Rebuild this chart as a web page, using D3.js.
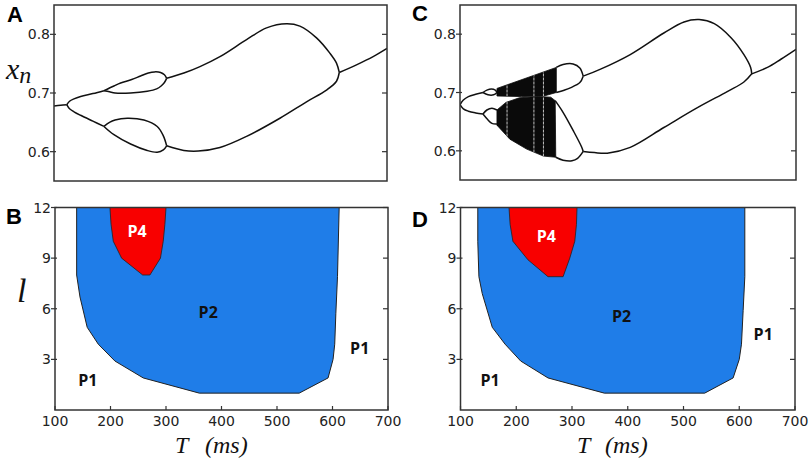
<!DOCTYPE html>
<html>
<head>
<meta charset="utf-8">
<script src="https://cdn.jsdelivr.net/npm/d3@7"></script>
<style>
  body { margin: 0; background: #fff; }
  svg { display: block; }
  .tick-label { font-family: "DejaVu Sans", sans-serif; font-size: 14px; fill: #222; }
  .panel-letter { font-family: "Liberation Sans", Arial, sans-serif; font-weight: bold; font-size: 22px; fill: #000; }
  .axis-title { font-family: "Liberation Serif", "DejaVu Serif", serif; font-style: italic; fill: #111; }
  .region-label { font-family: "Open Sans", sans-serif; font-weight: bold; font-size: 16px; text-anchor: middle; }
</style>
</head>
<body>
<div id="chart"></div>
<script>
// ---------- data ----------
var tTicks = [100, 200, 300, 400, 500, 600, 700];
var lTicks = [3, 6, 9, 12];
var xnTicks = [0.6, 0.7, 0.8];

// panel A : bifurcation branches [T, x_n]
var periodOneLeftA = [[100, 0.678], [112, 0.679], [123, 0.680]];
var periodTwoUpperA = [[123, 0.680], [128, 0.686], [136, 0.690], [148, 0.694], [170, 0.699], [190, 0.704]];
var periodTwoLowerA = [[123, 0.680], [128, 0.673], [136, 0.668], [148, 0.662], [170, 0.652], [190, 0.643]];
var loopUpperTopA = [[190, 0.704], [208, 0.712], [220, 0.717], [240, 0.723], [256, 0.729], [270, 0.734], [281, 0.736], [292, 0.735], [299, 0.731], [303, 0.725]];
var loopUpperBottomA = [[190, 0.704], [200, 0.702], [210, 0.700], [238, 0.700], [268, 0.703], [285, 0.707], [293, 0.712], [299, 0.718], [303, 0.725]];
var loopLowerTopA = [[190, 0.643], [200, 0.650], [210, 0.654], [232, 0.657], [262, 0.654], [286, 0.643], [297, 0.627], [303, 0.610]];
var loopLowerBottomA = [[190, 0.643], [208, 0.629], [238, 0.613], [268, 0.602], [286, 0.599], [297, 0.603], [303, 0.610]];
var outerUpperA = [[303, 0.725], [334, 0.734], [363, 0.745], [399, 0.762], [447, 0.791], [483, 0.811], [519, 0.818], [543, 0.814], [573, 0.794], [597, 0.768], [609, 0.751], [614, 0.735]];
var outerLowerA = [[303, 0.610], [334, 0.602], [360, 0.601], [399, 0.607], [447, 0.626], [507, 0.657], [555, 0.685], [591, 0.705], [609, 0.720], [614, 0.735]];
var periodOneRightA = [[614, 0.735], [645, 0.748], [675, 0.762], [700, 0.776]];

// panel C : bifurcation branches, chaotic bands and periodic windows
var periodTwoUpperC = [[100, 0.679], [106, 0.687], [115, 0.693], [128, 0.697], [141, 0.700]];
var periodTwoLowerC = [[100, 0.679], [106, 0.672], [115, 0.668], [128, 0.665], [141, 0.663]];
var smallUpperTopC = [[141, 0.700], [148, 0.704], [156, 0.706], [163, 0.704], [166, 0.700]];
var smallUpperBottomC = [[141, 0.700], [150, 0.696], [160, 0.696], [166, 0.700]];
var smallLowerTopC = [[141, 0.663], [148, 0.670], [157, 0.673], [166, 0.670]];
var smallLowerBottomC = [[141, 0.663], [149, 0.654], [157, 0.647], [166, 0.646]];
var chaosUpperC = [[166, 0.698], [166, 0.707], [272, 0.743], [272, 0.700], [250, 0.694], [210, 0.693], [166, 0.694]];
var chaosLowerC = [[166, 0.670], [182, 0.683], [206, 0.691], [240, 0.693], [262, 0.692], [270, 0.686], [271, 0.589], [249, 0.591], [219, 0.603], [189, 0.620], [166, 0.644]];
var windowsC = [184, 232, 249];
var bigUpperTopC = [[272, 0.743], [284, 0.748], [302, 0.749], [314, 0.742], [320, 0.728]];
var bigUpperBottomC = [[272, 0.700], [286, 0.704], [297, 0.708], [314, 0.717], [320, 0.728]];
var bigLowerTopC = [[270, 0.686], [284, 0.666], [302, 0.635], [317, 0.607], [320, 0.599]];
var bigLowerBottomC = [[271, 0.589], [284, 0.584], [300, 0.583], [310, 0.587], [320, 0.599]];
var outerUpperC = [[320, 0.728], [351, 0.740], [404, 0.765], [464, 0.802], [500, 0.821], [527, 0.825], [554, 0.818], [584, 0.794], [607, 0.765], [619, 0.743], [621, 0.732]];
var outerLowerC = [[320, 0.599], [340, 0.597], [363, 0.596], [404, 0.606], [464, 0.640], [524, 0.674], [578, 0.702], [607, 0.718], [621, 0.732]];
var periodOneRightC = [[621, 0.732], [649, 0.743], [673, 0.757], [700, 0.774]];

// panels B and D : regions in (T, l)
var p2RegionB = [[139, 12], [139, 8], [145, 6.7], [158, 4.9], [178, 3.9], [208, 2.9], [259, 1.9], [360, 1], [540, 1], [592, 1.9], [601, 3], [604, 3.9], [606, 5.7], [609, 7.9], [612, 12]];
var p4RegionB = [[199, 12], [201, 11], [205, 10], [220, 9], [258, 8], [271, 8], [290, 9], [295, 10], [298, 11], [300, 12]];
var labelsB = [["P4", 248, 10.6, "#fff"], ["P2", 376, 5.8, "#111"], ["P1", 159, 1.8, "#111"], ["P1", 649, 3.7, "#111"]];

var p2RegionD = [[131, 12], [131, 10], [133, 7.9], [139, 6.9], [157, 4.9], [180, 3.9], [208, 2.9], [257, 1.9], [358, 1], [538, 1], [589, 1.9], [600, 3], [604, 3.9], [607, 5.9], [610, 7.9], [610, 12]];
var p4RegionD = [[187, 12], [189, 11], [194, 10], [221, 8.9], [257, 7.9], [284, 7.9], [296, 9], [305, 10], [308, 11], [309, 12]];
var labelsD = [["P4", 254, 10.3, "#fff"], ["P2", 389, 5.6, "#111"], ["P1", 153, 1.8, "#111"], ["P1", 643, 4.5, "#111"]];

// ---------- layout ----------
var width = 812, height = 461;
var layout = {
  A: { left: 54, top: 5, w: 333, h: 176 },
  C: { left: 460, top: 5, w: 336, h: 175 },
  B: { left: 55, top: 207.5, w: 333, h: 202.5 },
  D: { left: 460.5, top: 207.5, w: 334.5, h: 202.5 }
};
var blue = "#1f7de8", red = "#f80000";

var svg = d3.select("#chart").append("svg")
  .attr("width", width)
  .attr("height", height);

drawBifurcation("A", [periodOneLeftA, periodTwoUpperA, periodTwoLowerA, loopUpperTopA, loopUpperBottomA,
  loopLowerTopA, loopLowerBottomA, outerUpperA, outerLowerA, periodOneRightA], [], []);
drawBifurcation("C", [periodTwoUpperC, periodTwoLowerC, smallUpperTopC, smallUpperBottomC, smallLowerTopC,
  smallLowerBottomC, bigUpperTopC, bigUpperBottomC, bigLowerTopC, bigLowerBottomC,
  outerUpperC, outerLowerC, periodOneRightC], [chaosUpperC, chaosLowerC], windowsC);
drawRegions("B", p2RegionB, p4RegionB, labelsB);
drawRegions("D", p2RegionD, p4RegionD, labelsD);

// panel letters
[["A", 7, 22], ["C", 412, 21], ["B", 6, 224], ["D", 412, 227]].forEach(function(d) {
  svg.append("text").attr("class", "panel-letter").attr("x", d[1]).attr("y", d[2]).text(d[0]);
});

// axis titles
var xn = svg.append("text").attr("class", "axis-title").attr("x", 6).attr("y", 79).style("font-size", "30px");
xn.append("tspan").text("x");
xn.append("tspan").attr("dy", 4).style("font-size", "24px").text("n");

svg.append("text").attr("class", "axis-title").attr("x", 17).attr("y", 302)
  .style("font-size", "34px").text("l");

[[175, 205], [577, 605]].forEach(function(p) {
  svg.append("text").attr("class", "axis-title").attr("x", p[0]).attr("y", 453)
    .style("font-size", "24px").text("T");
  svg.append("text").attr("class", "axis-title").attr("x", p[1]).attr("y", 453)
    .style("font-size", "24px").text("(ms)");
});

function makeScales(key, yDomain) {
  var p = layout[key];
  return {
    x: d3.scaleLinear().domain([100, 700]).range([p.left, p.left + p.w]),
    y: d3.scaleLinear().domain(yDomain).range([p.top + p.h, p.top])
  };
}

function drawFrame(key, s, yTicks, yFormat, showX) {
  var p = layout[key];
  var g = svg.append("g");

  // left ticks with labels
  g.selectAll(".ltick").data(yTicks).enter().append("line")
    .attr("x1", p.left - 4).attr("x2", p.left + 2)
    .attr("y1", function(d) { return s.y(d); })
    .attr("y2", function(d) { return s.y(d); })
    .attr("stroke", "#333").attr("stroke-width", 1.2);
  g.selectAll(".ylab").data(yTicks).enter().append("text")
    .attr("class", "tick-label")
    .attr("x", p.left - 4)
    .attr("y", function(d) { return s.y(d) + 5; })
    .attr("text-anchor", "end")
    .text(yFormat);

  // right ticks (inward)
  g.selectAll(".rtick").data(yTicks).enter().append("line")
    .attr("x1", p.left + p.w - 5).attr("x2", p.left + p.w)
    .attr("y1", function(d) { return s.y(d); })
    .attr("y2", function(d) { return s.y(d); })
    .attr("stroke", "#333").attr("stroke-width", 1.2);

  if (showX) {
    g.selectAll(".btick").data(tTicks).enter().append("line")
      .attr("x1", function(d) { return s.x(d); })
      .attr("x2", function(d) { return s.x(d); })
      .attr("y1", p.top + p.h - 4).attr("y2", p.top + p.h)
      .attr("stroke", "#333").attr("stroke-width", 1.2);
    g.selectAll(".xlab").data(tTicks).enter().append("text")
      .attr("class", "tick-label")
      .attr("x", function(d) { return s.x(d); })
      .attr("y", p.top + p.h + 16)
      .attr("text-anchor", "middle")
      .text(function(d) { return d; });
  }

  g.append("rect")
    .attr("x", p.left).attr("y", p.top)
    .attr("width", p.w).attr("height", p.h)
    .attr("fill", "none").attr("stroke", "#333").attr("stroke-width", 1.5);
}

function drawBifurcation(key, branches, bands, windows) {
  var s = makeScales(key, [0.55, 0.85]);
  var p = layout[key];
  var clipId = "clip" + key;

  svg.append("clipPath").attr("id", clipId).append("rect")
    .attr("x", p.left).attr("y", p.top).attr("width", p.w).attr("height", p.h);

  var g = svg.append("g").attr("clip-path", "url(#" + clipId + ")");

  var area = d3.line()
    .x(function(d) { return s.x(d[0]); })
    .y(function(d) { return s.y(d[1]); });

  if (bands.length) {
    var bandClip = svg.append("clipPath").attr("id", "bands" + key);
    bands.forEach(function(b) {
      bandClip.append("path").attr("d", area(b) + "Z");
    });
    g.selectAll(".band").data(bands).enter().append("path")
      .attr("d", function(d) { return area(d) + "Z"; })
      .attr("fill", "#0a0a0a")
      .attr("stroke", "#0a0a0a")
      .attr("stroke-width", 0.8);
    g.append("g").attr("clip-path", "url(#bands" + key + ")")
      .selectAll(".window").data(windows).enter().append("line")
      .attr("x1", function(d) { return s.x(d); })
      .attr("x2", function(d) { return s.x(d); })
      .attr("y1", s.y(0.76)).attr("y2", s.y(0.57))
      .attr("stroke", "#fff").attr("stroke-opacity", 0.75)
      .attr("stroke-width", 1).attr("stroke-dasharray", "3,1");
  }

  var line = d3.line()
    .x(function(d) { return s.x(d[0]); })
    .y(function(d) { return s.y(d[1]); })
    .curve(d3.curveCatmullRom.alpha(0.5));

  g.selectAll(".branch").data(branches).enter().append("path")
    .attr("d", line)
    .attr("fill", "none")
    .attr("stroke", "#111")
    .attr("stroke-width", 1.5);

  drawFrame(key, s, xnTicks, function(d) { return d.toFixed(1); }, false);
}

function drawRegions(key, p2, p4, labels) {
  var s = makeScales(key, [0, 12]);
  var g = svg.append("g");

  var poly = d3.line()
    .x(function(d) { return s.x(d[0]); })
    .y(function(d) { return s.y(d[1]); });

  g.append("path").attr("d", poly(p2) + "Z")
    .attr("fill", blue).attr("stroke", "#222").attr("stroke-width", 1);
  g.append("path").attr("d", poly(p4) + "Z")
    .attr("fill", red).attr("stroke", "#222").attr("stroke-width", 0.8);

  g.selectAll(".rlab").data(labels).enter().append("text")
    .attr("class", "region-label")
    .attr("x", function(d) { return s.x(d[1]); })
    .attr("y", function(d) { return s.y(d[2]) + 6; })
    .attr("fill", function(d) { return d[3]; })
    .text(function(d) { return d[0]; });

  drawFrame(key, s, lTicks, function(d) { return d; }, true);
}
</script>
</body>
</html>
